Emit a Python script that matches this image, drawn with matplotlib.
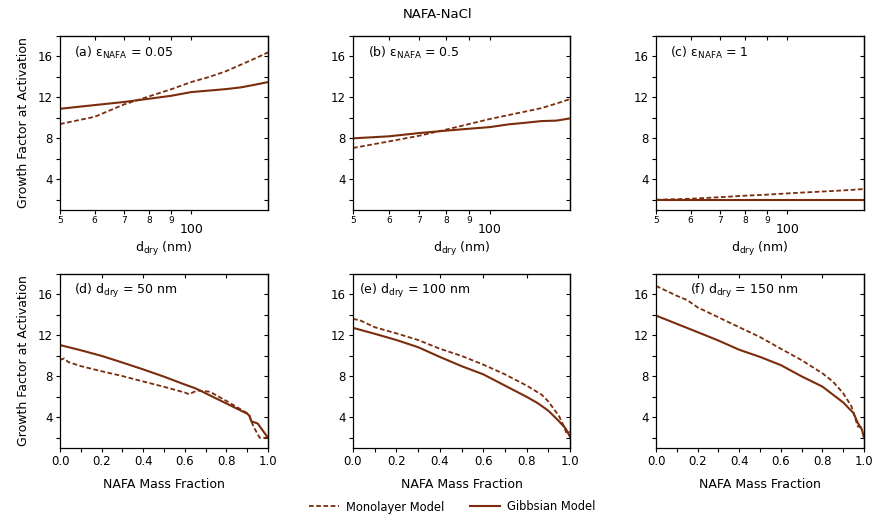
import matplotlib
matplotlib.use("Agg")
import matplotlib.pyplot as plt
from matplotlib.ticker import FixedLocator, FixedFormatter, NullFormatter, NullLocator
from matplotlib.lines import Line2D

plt.rcParams['font.family'] = ['DejaVu Sans']
plt.rcParams['mathtext.default'] = 'regular'

BROWN = '#7a2c0c'

# ---- top row: growth factor vs dry diameter ----
d_dry = [50, 60, 70, 80, 90, 100, 110, 120, 130, 140, 150]

a_gibbs = [10.89, 11.25, 11.55, 11.87, 12.16, 12.52, 12.67, 12.81, 12.98, 13.24, 13.5]
a_mono = [9.4, 10.1, 11.3, 12.1, 12.8, 13.5, 14.0, 14.55, 15.2, 15.8, 16.4]

b_gibbs = [8.0, 8.2, 8.52, 8.75, 8.94, 9.1, 9.37, 9.53, 9.69, 9.73, 9.95]
b_mono = [7.06, 7.7, 8.26, 8.85, 9.4, 9.89, 10.28, 10.63, 10.96, 11.4, 11.84]

c_gibbs = [2.0, 2.0, 2.0, 2.0, 2.0, 2.0, 2.0, 2.0, 2.0, 2.0, 2.0]
c_mono = [2.0, 2.1, 2.25, 2.4, 2.5, 2.62, 2.72, 2.8, 2.88, 2.96, 3.05]

# ---- bottom row: growth factor vs NAFA mass fraction ----
d_gibbs_x = [0, 0.1, 0.2, 0.3, 0.4, 0.5, 0.6, 0.65, 0.7, 0.8, 0.9, 0.91, 0.92, 0.95, 1.0]
d_gibbs = [11.06, 10.55, 10.0, 9.35, 8.68, 7.97, 7.2, 6.84, 6.35, 5.35, 4.35, 4.16, 3.6, 3.4, 2.0]
d_mono_x = [0, 0.02, 0.04, 0.1, 0.2, 0.3, 0.4, 0.5, 0.6, 0.62, 0.66, 0.72, 0.8, 0.9, 0.91, 0.93, 0.96, 1.0]
d_mono = [9.6, 9.75, 9.4, 9.0, 8.5, 8.03, 7.5, 6.98, 6.42, 6.26, 6.62, 6.5, 5.6, 4.4, 4.2, 3.1, 2.0, 2.0]

e_gibbs_x = [0, 0.1, 0.2, 0.3, 0.4, 0.5, 0.6, 0.7, 0.8, 0.85, 0.9, 0.95, 0.98, 1.0]
e_gibbs = [12.74, 12.16, 11.55, 10.85, 9.9, 9.0, 8.2, 7.1, 6.0, 5.4, 4.65, 3.6, 2.9, 2.1]
e_mono_x = [0, 0.03, 0.05, 0.1, 0.2, 0.3, 0.4, 0.5, 0.6, 0.7, 0.8, 0.87, 0.9, 0.95, 0.97, 0.985, 1.0]
e_mono = [13.6, 13.5, 13.3, 12.8, 12.2, 11.55, 10.7, 10.0, 9.15, 8.2, 7.1, 6.2, 5.55, 4.1, 3.2, 2.4, 2.6]

f_gibbs_x = [0, 0.1, 0.2, 0.3, 0.4, 0.5, 0.6, 0.7, 0.8, 0.9, 0.95, 0.97, 0.99, 1.0]
f_gibbs = [13.94, 13.13, 12.32, 11.5, 10.6, 9.9, 9.1, 8.0, 7.0, 5.45, 4.4, 3.45, 2.8, 2.0]
f_mono_x = [0, 0.05, 0.1, 0.15, 0.2, 0.3, 0.4, 0.5, 0.6, 0.7, 0.8, 0.85, 0.9, 0.94, 0.96, 0.97, 1.0]
f_mono = [16.84, 16.35, 15.87, 15.45, 14.74, 13.77, 12.8, 11.84, 10.7, 9.58, 8.3, 7.5, 6.35, 5.06, 3.77, 3.1, 3.0]

top_labels = ["(a) ε$_{NAFA}$ = 0.05", "(b) ε$_{NAFA}$ = 0.5", "(c) ε$_{NAFA}$ = 1"]
bottom_labels = ["(d) d$_{dry}$ = 50 nm", "(e) d$_{dry}$ = 100 nm", "(f) d$_{dry}$ = 150 nm"]

y_major = [4, 8, 12, 16]
y_all = [2, 4, 6, 8, 10, 12, 14, 16, 18]
x_top_small = [50, 60, 70, 80, 90]
x_top_small_labels = ['5', '6', '7', '8', '9']
frac_ticks = [0.0, 0.2, 0.4, 0.6, 0.8, 1.0]
frac_minor = [0.1, 0.3, 0.5, 0.7, 0.9]

W, H = 877, 521
fig = plt.figure(figsize=(W / 100, H / 100), dpi=100)

col_px = [(60, 208), (353, 217), (656, 208)]
top_row = (36, 210)
bot_row = (274, 448)


def make_axes(x0, w, y0, y1):
    return fig.add_axes([x0 / W, 1 - y1 / H, w / W, (y1 - y0) / H])


def style_y(ax, show_label):
    ax.set_ylim(1, 18)
    ax.yaxis.set_major_locator(FixedLocator(y_major))
    ax.yaxis.set_minor_locator(FixedLocator([2, 6, 10, 14, 18]))
    ax.tick_params(axis='y', which='both', direction='out', length=3, width=0.8,
                   labelsize=8.5, pad=2, right=False)
    sec = ax.secondary_yaxis('right')
    sec.yaxis.set_major_locator(FixedLocator(y_all))
    sec.yaxis.set_major_formatter(NullFormatter())
    sec.tick_params(direction='in', length=3, width=0.8)
    sec.spines['right'].set_linewidth(0.9)
    if show_label:
        ax.set_ylabel("Growth Factor at Activation", fontsize=9, labelpad=6)
    for s in ax.spines.values():
        s.set_linewidth(0.9)


datasets_top = [(a_mono, a_gibbs), (b_mono, b_gibbs), (c_mono, c_gibbs)]
for i, ((x0, w), (mono, gibbs), lab) in enumerate(zip(col_px, datasets_top, top_labels)):
    ax = make_axes(x0, w, *top_row)
    ax.plot(d_dry, mono, color=BROWN, lw=1.3, ls=(0, (2.6, 1.4)))
    ax.plot(d_dry, gibbs, color=BROWN, lw=1.5)
    ax.set_xscale('log')
    ax.set_xlim(50, 150)
    ax.xaxis.set_major_locator(FixedLocator([100]))
    ax.xaxis.set_major_formatter(FixedFormatter(['100']))
    ax.xaxis.set_minor_locator(FixedLocator(x_top_small))
    ax.xaxis.set_minor_formatter(FixedFormatter(x_top_small_labels))
    ax.tick_params(axis='x', which='minor', direction='out', length=3, width=0.8,
                   labelsize=6.5, pad=1.5, top=False)
    ax.tick_params(axis='x', which='major', direction='out', length=3, width=0.8,
                   labelsize=9, pad=6.5, top=False)
    sec = ax.secondary_xaxis('top')
    sec.xaxis.set_major_locator(FixedLocator([60, 70, 80, 90, 100]))
    sec.xaxis.set_minor_locator(NullLocator())
    sec.xaxis.set_major_formatter(NullFormatter())
    sec.tick_params(direction='in', length=3, width=0.8)
    style_y(ax, i == 0)
    ax.set_xlabel("d$_{dry}$ (nm)", fontsize=9, labelpad=3)
    ax.text(0.067, 0.9, lab, transform=ax.transAxes, fontsize=9, va='center', ha='left')

datasets_bot = [((d_mono_x, d_mono), (d_gibbs_x, d_gibbs)),
                ((e_mono_x, e_mono), (e_gibbs_x, e_gibbs)),
                ((f_mono_x, f_mono), (f_gibbs_x, f_gibbs))]
label_x = [0.067, 0.028, 0.163]
for i, ((x0, w), (mono, gibbs), lab) in enumerate(zip(col_px, datasets_bot, bottom_labels)):
    ax = make_axes(x0, w, *bot_row)
    ax.plot(mono[0], mono[1], color=BROWN, lw=1.3, ls=(0, (2.6, 1.4)))
    ax.plot(gibbs[0], gibbs[1], color=BROWN, lw=1.5)
    ax.set_xlim(0, 1)
    ax.xaxis.set_major_locator(FixedLocator(frac_ticks))
    ax.xaxis.set_major_formatter(FixedFormatter([f"{v:.1f}" for v in frac_ticks]))
    ax.xaxis.set_minor_locator(FixedLocator(frac_minor))
    ax.tick_params(axis='x', which='both', direction='out', length=3, width=0.8,
                   labelsize=8.5, pad=2, top=False)
    sec = ax.secondary_xaxis('top')
    sec.xaxis.set_major_locator(FixedLocator([0.2, 0.4, 0.6, 0.8]))
    sec.xaxis.set_major_formatter(NullFormatter())
    sec.tick_params(direction='in', length=3, width=0.8)
    style_y(ax, i == 0)
    ax.set_xlabel("NAFA Mass Fraction", fontsize=9, labelpad=7)
    ax.text(label_x[i], 0.9, lab, transform=ax.transAxes, fontsize=9, va='center', ha='left')

fig.text(438 / W, 1 - 14 / H, "NAFA-NaCl", ha='center', va='center', fontsize=9.5)

handles = [Line2D([], [], color=BROWN, lw=1.3, ls=(0, (2.6, 1.4))),
           Line2D([], [], color=BROWN, lw=1.5)]
fig.legend(handles, ["Monolayer Model", "Gibbsian Model"], loc='center',
           bbox_to_anchor=(452 / W, 1 - 507 / H), ncol=2, frameon=False,
           fontsize=8.3, handlelength=2.6, handletextpad=0.6, columnspacing=2.2)

fig.savefig("out.png", dpi=100)
